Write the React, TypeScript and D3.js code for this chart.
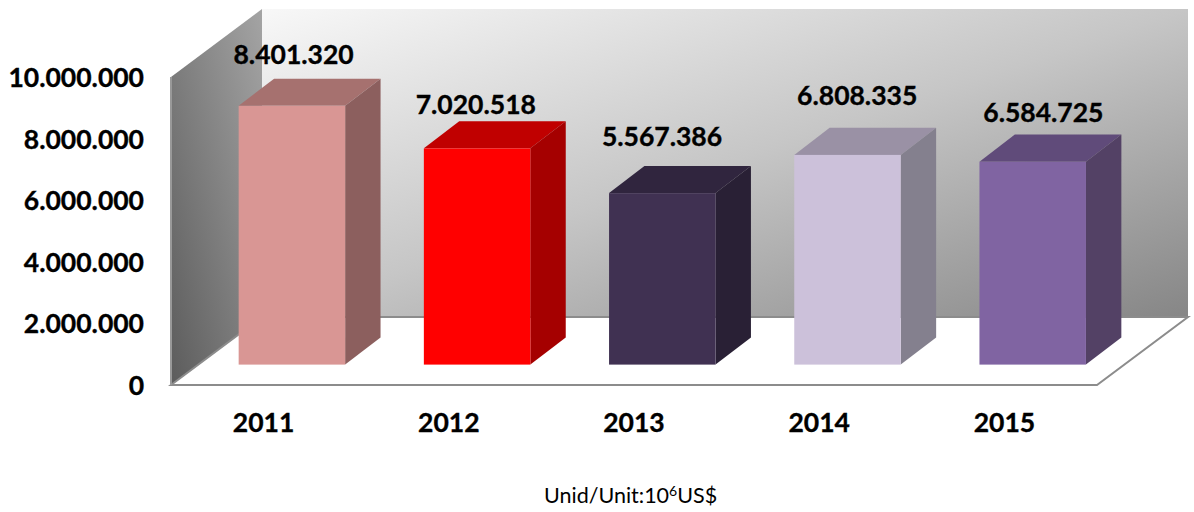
import React from "react";
import * as d3 from "d3";

const years = ["2011", "2012", "2013", "2014", "2015"];
const values = [8401320, 7020518, 5567386, 6808335, 6584725];
const valueLabels = ["8.401.320", "7.020.518", "5.567.386", "6.808.335", "6.584.725"];
const frontColors = ["#d99694", "#ff0000", "#403152", "#ccc1da", "#8064a2"];
const topColors = ["#a6716f", "#c00000", "#30253e", "#9a91a5", "#604b7a"];
const sideColors = ["#8c5f5e", "#a50000", "#292035", "#84808e", "#534165"];
const yTicks = [0, 2000000, 4000000, 6000000, 8000000, 10000000];
const yTickLabels = ["0", "2.000.000", "4.000.000", "6.000.000", "8.000.000", "10.000.000"];

const W = 1194, H = 512;
const FONT = "Lato, 'Open Sans', sans-serif";
// manual placement of the data labels relative to each bar's top-centre
const labelShiftX = [3, 0, 1, 11, 12];
const labelShiftY = [-42, -34, -47, -50, -40];

export default function App() {
  const x = d3.scaleBand<string>().domain(years).range([171, 1097]).paddingInner(0.425).paddingOuter(0.2125);
  const y = d3.scaleLinear().domain([0, 10000000]).range([385, 77]);
  const dx = 91, dy = -68;
  const barDx = dx * 0.3 + 1, barDy = dy * 0.3;
  const depthX = dx * 0.4 - 1, depthY = dy * 0.4;
  const pts = (p: number[][]) => p.map((q) => q.join(",")).join(" ");
  const x0 = 171, x1 = 1097, y0 = y(0), yT = y(10000000);
  const boldText = { fontFamily: FONT, fontWeight: 700, fontSize: 26.5, fill: "#000", stroke: "#000", strokeWidth: 0.35 };

  return (
    <svg width={W} height={H} style={{ position: "absolute", left: 0, top: 0, background: "#fff" }}>
      <defs>
        <linearGradient id="back" x1="0" y1="0" x2="1" y2="1">
          <stop offset="0" stopColor="#f8f8f8" />
          <stop offset="0.5" stopColor="#c6c6c6" />
          <stop offset="1" stopColor="#868686" />
        </linearGradient>
        <linearGradient id="wall" x1="1" y1="0" x2="0" y2="1">
          <stop offset="0" stopColor="#a4a4a4" />
          <stop offset="1" stopColor="#5c5c5c" />
        </linearGradient>
      </defs>
      <polygon points={pts([[x0 + dx, yT + dy], [x1 + dx, yT + dy], [x1 + dx, y0 + dy], [x0 + dx, y0 + dy]])} fill="url(#back)" />
      <polygon points={pts([[x0, yT], [x0 + dx, yT + dy], [x0 + dx, y0 + dy], [x0, y0]])} fill="url(#wall)" />
      <polygon points={pts([[x0, y0], [x0 + dx, y0 + dy], [x1 + dx, y0 + dy], [x1, y0]])} fill="#fff" stroke="#8c8c8c" strokeWidth={2} />
      <line x1={x0} x2={x0} y1={yT} y2={y0} stroke="#999" strokeWidth={2} />

      {years.map((yr, i) => {
        const bl = x(yr)! + barDx;
        const br = bl + x.bandwidth();
        const b = y(0) + barDy;
        const t = y(values[i]) + barDy;
        return (
          <g key={yr}>
            <polygon points={pts([[bl, t], [bl + depthX, t + depthY], [br + depthX, t + depthY], [br, t]])} fill={topColors[i]} />
            <polygon points={pts([[br, t], [br + depthX, t + depthY], [br + depthX, b + depthY], [br, b]])} fill={sideColors[i]} />
            <rect x={bl} y={t} width={x.bandwidth()} height={b - t} fill={frontColors[i]} />
          </g>
        );
      })}

      {years.map((yr, i) => (
        <text key={yr} x={x(yr)! + x.bandwidth() / 2 + 27 + labelShiftX[i]} y={y(values[i]) + barDy + labelShiftY[i]} textAnchor="middle" {...boldText}>{valueLabels[i]}</text>
      ))}

      {yTicks.map((v, i) => (
        <text key={v} x={144} y={y(v) + 10} textAnchor="end" {...boldText}>{yTickLabels[i]}</text>
      ))}

      {years.map((yr) => (
        <text key={yr} x={x(yr)! + x.bandwidth() / 2} y={432} textAnchor="middle" {...boldText}>{yr}</text>
      ))}

      <text x={544} y={503} fontFamily={FONT} fontSize={21.5} fill="#000">
        Unid/Unit:10<tspan fontSize={14} dy={-7}>6</tspan><tspan dy={7}>US$</tspan>
      </text>
    </svg>
  );
}
